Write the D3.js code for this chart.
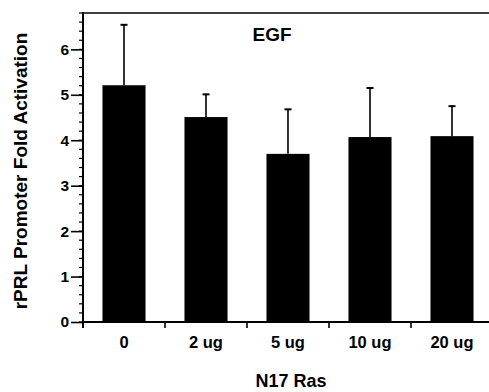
<!DOCTYPE html>
<html>
<head>
<meta charset="utf-8">
<script src="https://cdn.jsdelivr.net/npm/d3@7"></script>
<style>
  body { margin: 0; background: #fff; }
  svg { display: block; }
  text { font-family: "Liberation Sans", Arial, sans-serif; font-weight: bold; fill: #000; }
</style>
</head>
<body>
<div id="chart"></div>
<script>
// data
const categories = ['0', '2 ug', '5 ug', '10 ug', '20 ug'];
const values = [5.21, 4.51, 3.70, 4.07, 4.09];
const errTops = [6.54, 5.01, 4.68, 5.15, 4.75];
const yTicks = [0, 1, 2, 3, 4, 5, 6];

const svgWidth = 489;
const svgHeight = 392;

const svg = d3.select('#chart').append('svg')
    .attr('width', svgWidth)
    .attr('height', svgHeight);

// plot area (runs off the right edge like the scan)
const x0 = 83, x1 = 493, yTop = 13, yBottom = 322;

const xScale = d3.scaleBand()
    .domain(categories)
    .range([x0, x1])
    .paddingInner(0.475)
    .paddingOuter(0.2375);

const yScale = d3.scaleLinear()
    .domain([0, 6.8])
    .range([yBottom, yTop]);

// bars
svg.selectAll('rect.bar')
    .data(values)
    .enter().append('rect')
    .attr('class', 'bar')
    .attr('x', (d, i) => xScale(categories[i]))
    .attr('width', xScale.bandwidth())
    .attr('y', d => yScale(d))
    .attr('height', d => yScale(0) - yScale(d))
    .attr('fill', '#000');

// error bars (upper only)
const errG = svg.append('g').attr('stroke', '#000').attr('stroke-width', 1.6);
categories.forEach((c, i) => {
    const cx = xScale(c) + xScale.bandwidth() / 2;
    errG.append('line')
        .attr('x1', cx).attr('x2', cx)
        .attr('y1', yScale(values[i])).attr('y2', yScale(errTops[i]));
    errG.append('line')
        .attr('x1', cx - 3.5).attr('x2', cx + 3.5)
        .attr('y1', yScale(errTops[i])).attr('y2', yScale(errTops[i]))
        .attr('stroke-width', 2);
});

// y axis with minor ticks
const minor = d3.range(0, 6.81, 0.2);
svg.append('g')
    .selectAll('line')
    .data(minor)
    .enter().append('line')
    .attr('x1', x0 - 4).attr('x2', x0)
    .attr('y1', d => yScale(d)).attr('y2', d => yScale(d))
    .attr('stroke', '#000').attr('stroke-width', 1.2);

const yAxis = svg.append('g')
    .attr('transform', `translate(${x0},0)`)
    .call(d3.axisLeft(yScale).tickValues(yTicks).tickFormat(d3.format('d')).tickSize(12).tickPadding(2));
yAxis.select('.domain').remove();
yAxis.selectAll('.tick line').attr('stroke-width', 1.6);
yAxis.selectAll('.tick text').attr('font-size', 15.5);

svg.append('line')
    .attr('x1', x0).attr('x2', x0)
    .attr('y1', yTop - 1).attr('y2', yBottom + 6)
    .attr('stroke', '#000').attr('stroke-width', 2);

// top border
svg.append('line')
    .attr('x1', x0).attr('x2', svgWidth)
    .attr('y1', yTop).attr('y2', yTop)
    .attr('stroke', '#000').attr('stroke-width', 1.6);

// x axis
svg.append('line')
    .attr('x1', x0).attr('x2', svgWidth)
    .attr('y1', yBottom).attr('y2', yBottom)
    .attr('stroke', '#000').attr('stroke-width', 2);

const step = xScale.step();
const bounds = d3.range(1, categories.length).map(i => x0 + i * step);
svg.selectAll('line.xtick')
    .data(bounds)
    .enter().append('line')
    .attr('class', 'xtick')
    .attr('x1', d => d).attr('x2', d => d)
    .attr('y1', yBottom).attr('y2', yBottom + 6)
    .attr('stroke', '#000').attr('stroke-width', 1.6);

svg.selectAll('text.xlab')
    .data(categories)
    .enter().append('text')
    .attr('class', 'xlab')
    .attr('x', d => xScale(d) + xScale.bandwidth() / 2)
    .attr('y', 348)
    .attr('text-anchor', 'middle')
    .attr('font-size', 16.5)
    .text(d => d);

// titles
svg.append('text')
    .attr('x', 291)
    .attr('y', 387)
    .attr('text-anchor', 'middle')
    .attr('font-size', 18)
    .text('N17 Ras');

svg.append('text')
    .attr('x', 272)
    .attr('y', 41)
    .attr('text-anchor', 'middle')
    .attr('font-size', 19)
    .text('EGF');

svg.append('text')
    .attr('transform', 'translate(27,171) rotate(-90)')
    .attr('text-anchor', 'middle')
    .attr('font-size', 19)
    .text('rPRL Promoter Fold Activation');
</script>
</body>
</html>
